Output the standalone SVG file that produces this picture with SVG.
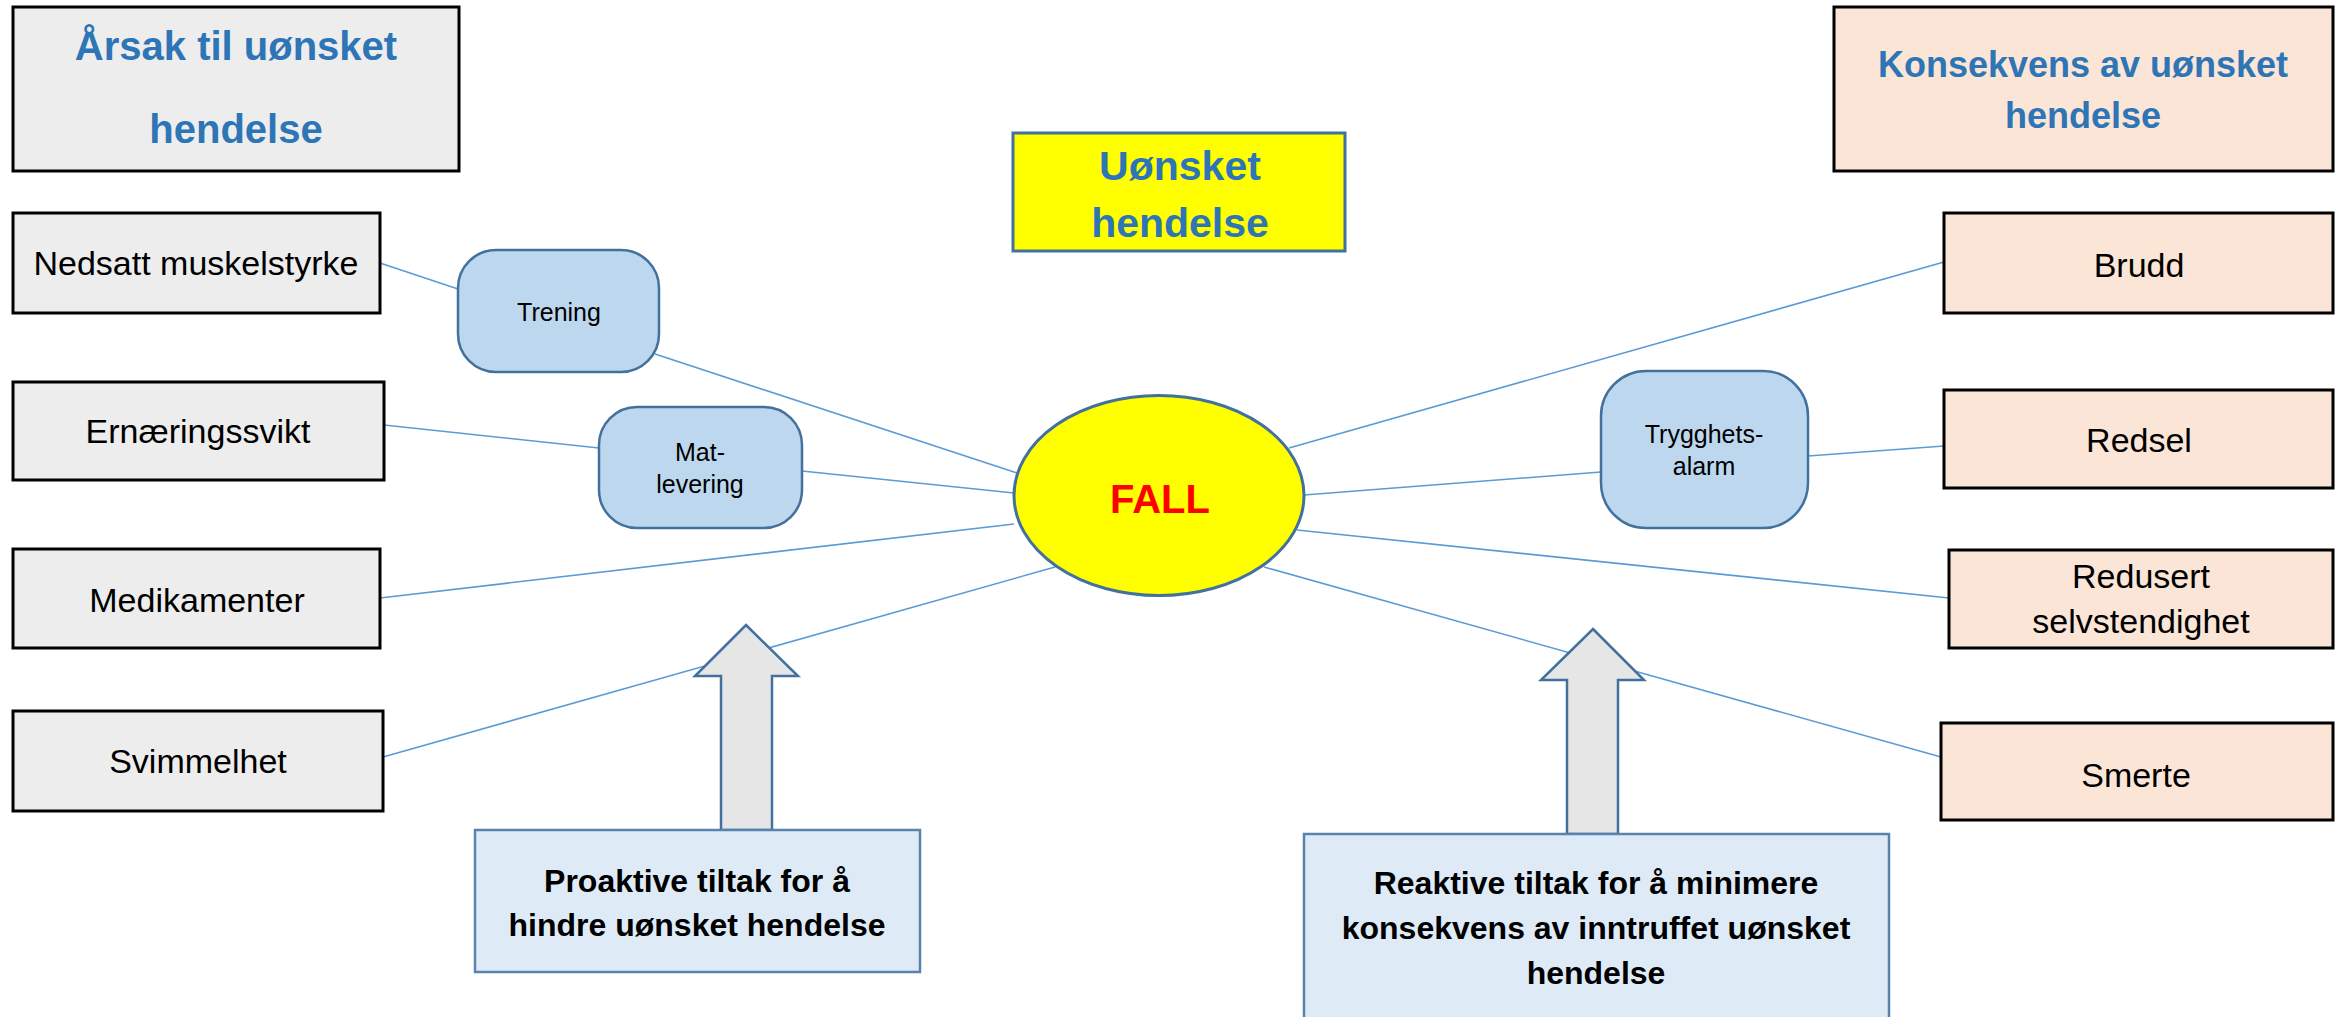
<svg xmlns="http://www.w3.org/2000/svg" width="2341" height="1017" viewBox="0 0 2341 1017">
<style>
text{font-family:"Liberation Sans",Arial,sans-serif;text-anchor:middle}
.cause{fill:#EDEDED;stroke:#000;stroke-width:3}
.cons{fill:#FBE5D6;stroke:#000;stroke-width:3}
.meas{fill:#BDD7EE;stroke:#41719C;stroke-width:2.5}
.act{fill:#DEEBF7;stroke:#5A82AE;stroke-width:2.5}
.arr{fill:#E6E6E6;stroke:#41719C;stroke-width:2.5}
.title{fill:#2E75B6;font-weight:bold}
.lbl{fill:#000;font-size:34px}
.sm{fill:#000;font-size:25px}
.bold{fill:#000;font-weight:bold;font-size:32px}
.conn line{stroke:#5B9BD5;stroke-width:1.6}
</style>
<rect width="2341" height="1017" fill="#fff"/>
<g class="conn" id="connectors">
<line x1="380" y1="263" x2="458" y2="289"/>
<line x1="655" y1="354" x2="1017" y2="473"/>
<line x1="384" y1="425" x2="599" y2="448"/>
<line x1="802" y1="471" x2="1014" y2="493"/>
<line x1="380" y1="598" x2="1014" y2="524"/>
<line x1="383" y1="757" x2="1055" y2="567"/>
<line x1="1289" y1="448" x2="1944" y2="262"/>
<line x1="1304" y1="495" x2="1601" y2="472"/>
<line x1="1808" y1="456" x2="1944" y2="446"/>
<line x1="1297" y1="530" x2="1949" y2="598"/>
<line x1="1264" y1="567" x2="1941" y2="757"/>
</g>
<g id="title-cause">
<rect class="cause" x="13" y="7" width="446" height="164"/>
<text class="title" x="236" y="60" font-size="40">Årsak til uønsket</text>
<text class="title" x="236" y="143" font-size="40">hendelse</text>
</g>
<g id="title-cons">
<rect class="cons" x="1834" y="7" width="499" height="164"/>
<text class="title" x="2083" y="77" font-size="36">Konsekvens av uønsket</text>
<text class="title" x="2083" y="128" font-size="36">hendelse</text>
</g>
<g id="event">
<rect x="1013" y="133" width="332" height="118" fill="#FFFF00" stroke="#41719C" stroke-width="3"/>
<text class="title" x="1180" y="180" font-size="41">Uønsket</text>
<text class="title" x="1180" y="237" font-size="41">hendelse</text>
</g>
<g id="fall">
<ellipse cx="1159" cy="495.5" rx="145" ry="100" fill="#FFFF00" stroke="#41719C" stroke-width="3"/>
<text x="1160" y="513" font-size="40" font-weight="bold" fill="#FF0000">FALL</text>
</g>
<g id="nedsatt">
<rect class="cause" x="13" y="213" width="367" height="100"/>
<text class="lbl" x="196" y="275">Nedsatt muskelstyrke</text>
</g>
<g id="ernaering">
<rect class="cause" x="13" y="382" width="371" height="98"/>
<text class="lbl" x="198" y="443">Ernæringssvikt</text>
</g>
<g id="medikamenter">
<rect class="cause" x="13" y="549" width="367" height="99"/>
<text class="lbl" x="197" y="612">Medikamenter</text>
</g>
<g id="svimmelhet">
<rect class="cause" x="13" y="711" width="370" height="100"/>
<text class="lbl" x="198" y="773">Svimmelhet</text>
</g>
<g id="trening">
<rect class="meas" x="458" y="250" width="201" height="122" rx="38" ry="38"/>
<text class="sm" x="559" y="321">Trening</text>
</g>
<g id="matlevering">
<rect class="meas" x="599" y="407" width="203" height="121" rx="38" ry="38"/>
<text class="sm" x="700" y="461">Mat-</text>
<text class="sm" x="700" y="493">levering</text>
</g>
<g id="trygghetsalarm">
<rect class="meas" x="1601" y="371" width="207" height="157" rx="45" ry="45"/>
<text class="sm" x="1704" y="443">Trygghets-</text>
<text class="sm" x="1704" y="475">alarm</text>
</g>
<g id="brudd">
<rect class="cons" x="1944" y="213" width="389" height="100"/>
<text class="lbl" x="2139" y="277" font-size="36">Brudd</text>
</g>
<g id="redsel">
<rect class="cons" x="1944" y="390" width="389" height="98"/>
<text class="lbl" x="2139" y="452" font-size="36">Redsel</text>
</g>
<g id="redusert">
<rect class="cons" x="1949" y="550" width="384" height="98"/>
<text class="lbl" x="2141" y="588">Redusert</text>
<text class="lbl" x="2141" y="633">selvstendighet</text>
</g>
<g id="smerte">
<rect class="cons" x="1941" y="723" width="392" height="97"/>
<text class="lbl" x="2136" y="787" font-size="36">Smerte</text>
</g>
<g id="arrow-left">
<polygon class="arr" points="746,625 798,676 772,676 772,830 721,830 721,676 695,676"/>
</g>
<g id="arrow-right">
<polygon class="arr" points="1593,629 1644,680 1618,680 1618,834 1567,834 1567,680 1541,680"/>
</g>
<g id="proaktive">
<rect class="act" x="475" y="830" width="445" height="142"/>
<text class="bold" x="697" y="892">Proaktive tiltak for å</text>
<text class="bold" x="697" y="936">hindre uønsket hendelse</text>
</g>
<g id="reaktive">
<rect class="act" x="1304" y="834" width="585" height="190"/>
<text class="bold" x="1596" y="894">Reaktive tiltak for å minimere</text>
<text class="bold" x="1596" y="939">konsekvens av inntruffet uønsket</text>
<text class="bold" x="1596" y="984">hendelse</text>
</g>
</svg>
